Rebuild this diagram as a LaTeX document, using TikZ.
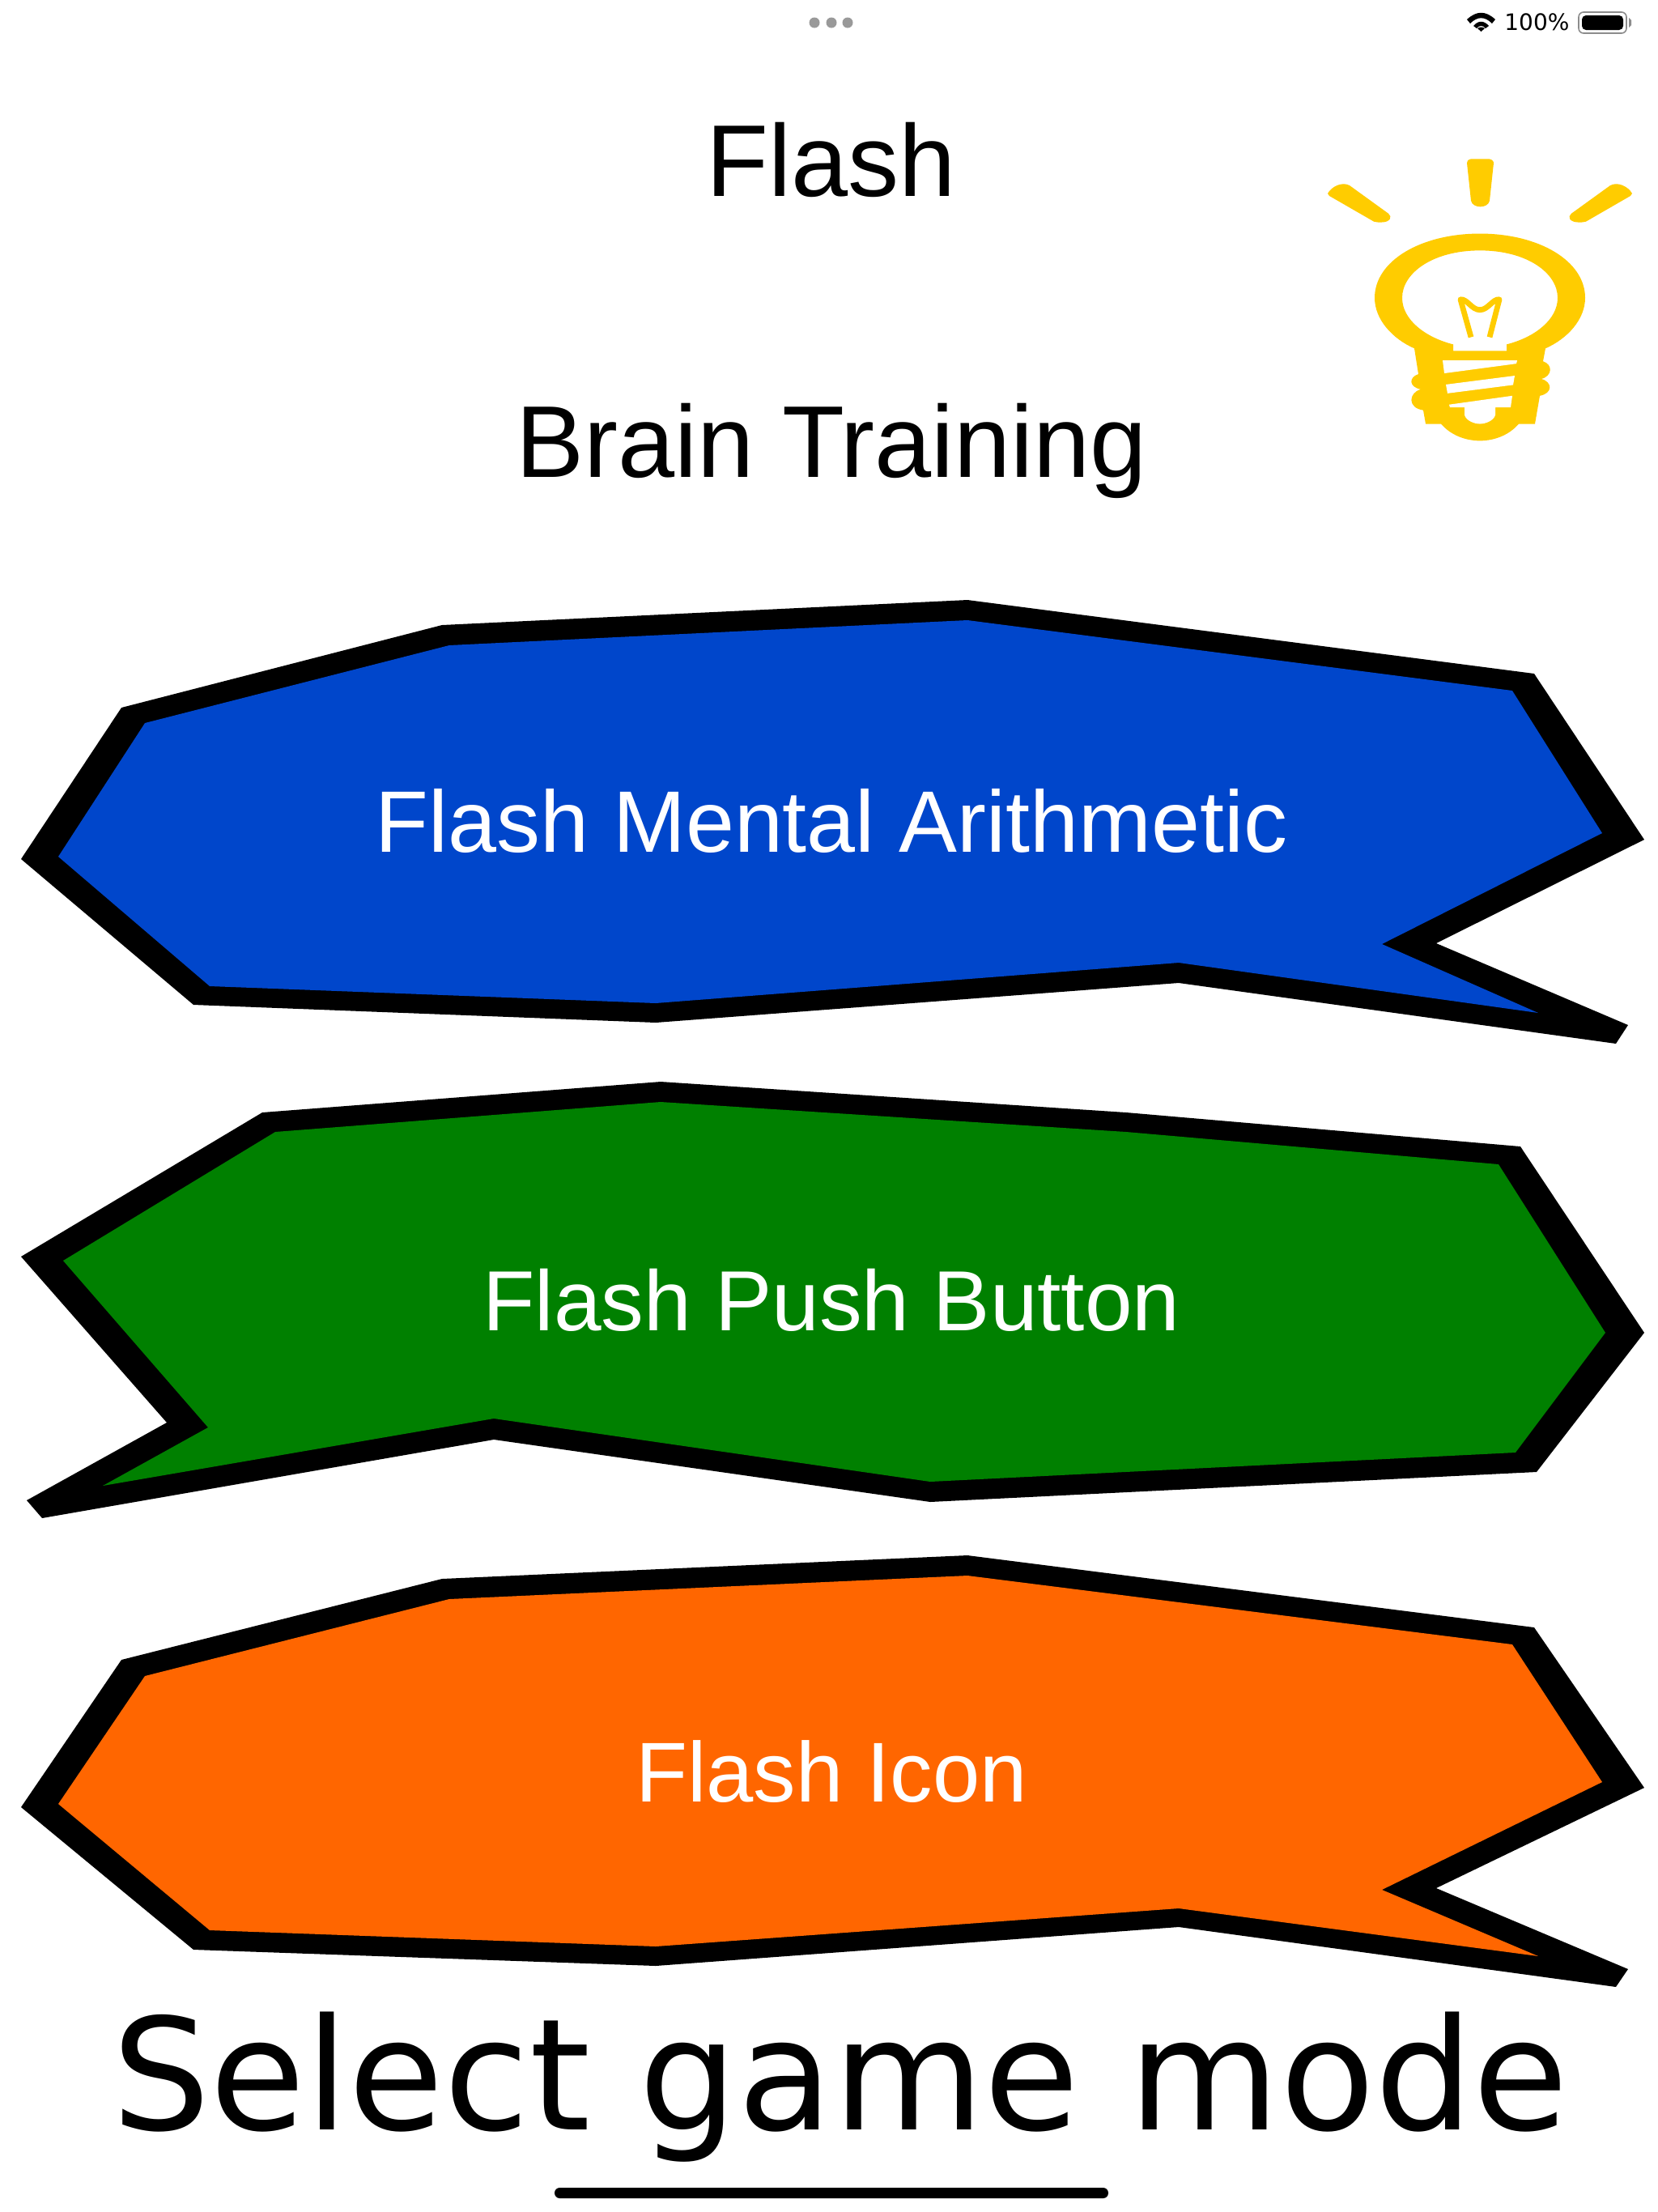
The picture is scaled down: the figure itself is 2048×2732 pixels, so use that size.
\documentclass[tikz,border=0pt]{standalone}
\usepackage{fontspec}
\setmainfont{Liberation Sans}
\newfontfamily\dejavu{DejaVu Sans}
\definecolor{bluefill}{RGB}{0,70,203}
\definecolor{greenfill}{RGB}{0,128,0}
\definecolor{orangefill}{RGB}{255,102,0}
\definecolor{bulbyellow}{RGB}{255,204,0}
\definecolor{dotgrey}{RGB}{153,153,153}
\tikzset{x=0.5pt,y=-0.5pt,
  outline/.style={fill=black,draw=none},
  bulb/.style={fill=bulbyellow,draw=none},
  title/.style={inner sep=0pt,anchor=base,text=black,font=\fontsize{63}{63}\selectfont},
  btn/.style={inner sep=0pt,anchor=base,text=white}}
\begin{document}
\begin{tikzpicture}
\useasboundingbox (0,0) rectangle (2048,2732);
\fill[white] (0,0) rectangle (2048,2732);
% status bar
\fill[dotgrey] (1006,28) circle (6.5);
\fill[dotgrey] (1027,28) circle (6.5);
\fill[dotgrey] (1047,28) circle (6.5);
\node[inner sep=0pt,anchor=base west] (pct) at (1858,37) {\dejavu\fontsize{14}{14}\selectfont 100\%};
\draw[black!45,line width=0.8pt,rounded corners=3pt] (1950,15) rectangle (2009,41);
\fill[black,rounded corners=2.5pt] (1954,19) rectangle (2005,37);
\fill[black!45] (2012,22) -- (2015,25) -- (2015,31) -- (2012,34) -- cycle;
\fill[black] (1812,24) .. controls (1824,13) and (1835,13) .. (1847,24) -- (1843,29) .. controls (1834,20) and (1825,20) .. (1816,29) -- cycle;
\fill[black] (1820,32) .. controls (1826,25) and (1833,25) .. (1839,32) -- (1835,35) .. controls (1832,31) and (1827,31) .. (1824,35) -- cycle;
\fill[black] (1825,35) .. controls (1828,33) and (1831,33) .. (1834,35) -- (1829.5,39) -- cycle;
% titles
\node[title] (t1) at (1027,242) {Flash};
\node[title] (t2) at (1027,589) {Brain Training};
% bulb
\begin{scope}[yscale=0.9915]
\fill[bulb] (1640,241) .. controls (1645,232) and (1658,226) .. (1667,231) -- (1715,266) .. controls (1720,270) and (1718,277) .. (1705,277) .. controls (1700,277) and (1698,276) .. (1697,276) -- (1642,244) -- cycle;
\fill[bulb] (1812,203) .. controls (1812,198) and (1818,198) .. (1818,198) -- (1838,198) .. controls (1845,198) and (1845,203) .. (1845,203) -- (1840,250) .. controls (1838,260) and (1819,260) .. (1817,250) -- cycle;
\fill[bulb] (2016,241) .. controls (2011,232) and (1998,226) .. (1989,231) -- (1941,266) .. controls (1936,270) and (1938,277) .. (1951,277) .. controls (1956,277) and (1958,276) .. (1959,276) -- (2014,244) -- cycle;
\fill[bulb,even odd rule] (1828,291) .. controls (1755,291) and (1698,325) .. (1698,371) .. controls (1698,398) and (1720,422) .. (1747,434) -- (1752,466) .. controls (1740,470) and (1740,482) .. (1755,485) .. controls (1740,489) and (1738,508) .. (1758,511) -- (1761,528) -- (1780,528) .. controls (1792,542) and (1810,549) .. (1828,549) .. controls (1846,549) and (1864,542) .. (1876,528) -- (1896,528) -- (1902,493) .. controls (1918,490) and (1918,476) .. (1904,472) .. controls (1918,468) and (1918,454) .. (1906,450) -- (1909,434) .. controls (1936,422) and (1958,398) .. (1958,371) .. controls (1958,325) and (1901,291) .. (1828,291) -- cycle
(1828,312) .. controls (1770,312) and (1732,340) .. (1732,371) .. controls (1732,398) and (1760,420) .. (1795,429) -- (1795,437) -- (1861,437) -- (1861,429) .. controls (1896,420) and (1924,398) .. (1924,371) .. controls (1924,340) and (1886,312) .. (1828,312) -- cycle;
\draw[bulbyellow,line width=3.4pt,line join=round] (1817,420) -- (1804,373) .. controls (1812,372) and (1818,386) .. (1828,386) .. controls (1838,386) and (1844,372) .. (1852,373) -- (1840,420);
\fill[white] (1782,449) -- (1874,449) -- (1873,453) -- (1784,465) -- cycle;
\fill[white] (1786,479) -- (1871,468) -- (1869,479.5) -- (1788,490) -- cycle;
\fill[white] (1790,504) -- (1868,493) -- (1866,507.5) -- (1847,507.5) -- (1847,517) .. controls (1845,524) and (1835,528) .. (1828,528) .. controls (1821,528) and (1811,524) .. (1809,517) -- (1809,507.5) -- (1791,507.5) -- cycle;
\end{scope}
% blue
\fill[outline] (1195,741)--(546,772)--(150,874)--(26,1061)--(239,1241)--(810,1263)--(1456,1214)--(1996,1289)--(2011,1266)--(1774,1165)--(2031,1037)--(1895,832)--cycle;
\fill[bluefill] (1195,766)--(555,797)--(179,893)--(72,1058)--(259,1218)--(810,1239)--(1456,1189)--(1900,1251)--(1707,1166)--(1979,1029)--(1868,853)--cycle;
\node[btn,font=\fontsize{53.9}{54}\selectfont] (b1) at (1027,1052) {Flash Mental Arithmetic};
% green
\fill[outline] (816,1336)--(324,1374)--(26,1552)--(206,1757)--(33,1853)--(52,1875)--(610,1778)--(1149,1855)--(1898,1818)--(2031,1646)--(1878,1416)--(1391,1374)--cycle;
\fill[greenfill] (816,1361)--(340,1398)--(78,1557)--(257,1763)--(127,1835)--(610,1752)--(1149,1830)--(1872,1794)--(1983,1646)--(1851,1438)--(1391,1398)--cycle;
\node[btn,font=\fontsize{52.7}{53}\selectfont] (b2) at (1027,1643) {Flash Push Button};
% orange
\fill[outline] (1195,1921)--(546,1950)--(150,2050)--(26,2232)--(239,2408)--(810,2428)--(1456,2380)--(1996,2454)--(2011,2432)--(1774,2332)--(2031,2208)--(1895,2010)--cycle;
\fill[orangefill] (1195,1946)--(555,1975)--(179,2070)--(72,2228)--(259,2384)--(810,2404)--(1456,2357)--(1900,2416)--(1707,2334)--(1979,2201)--(1868,2031)--cycle;
\node[btn,font=\fontsize{52.4}{53}\selectfont] (b3) at (1027,2225) {Flash Icon};
% bottom text
\node[inner sep=0pt,anchor=base] (sel) at (1038,2630) {\dejavu\fontsize{95.8}{96}\selectfont Select game mode};
\fill[black,rounded corners=3.2pt] (685,2702) rectangle (1369,2715);
\end{tikzpicture}
\end{document}
